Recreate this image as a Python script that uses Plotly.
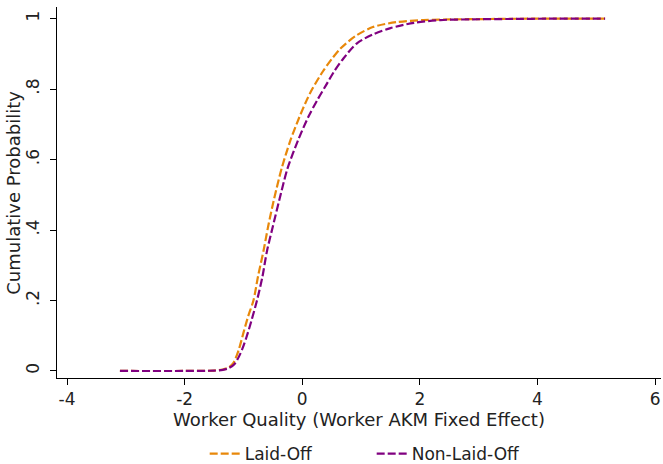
import plotly.graph_objects as go

laid_x = [-3.1, -2.0, -1.5, -1.35, -1.25, -1.17, -1.08, -1.0, -0.92, -0.83, -0.75, -0.66, -0.58, -0.49,
          -0.35, -0.2, -0.05, 0.08, 0.17, 0.35, 0.5, 0.65, 0.9, 1.2, 1.6, 2.06, 2.6, 3.2, 4.0, 5.15]
laid_y = [0, 0, 0.001, 0.004, 0.01, 0.023, 0.06, 0.108, 0.155, 0.2, 0.27, 0.34, 0.41, 0.48,
          0.575, 0.655, 0.72, 0.77, 0.80, 0.85, 0.885, 0.915, 0.95, 0.976, 0.99, 0.996, 0.998, 0.999, 1.0, 1.0]

# Non-Laid-Off empirical CDF
non_x = [-3.1, -2.0, -1.5, -1.35, -1.25, -1.15, -1.05, -0.95, -0.86, -0.77, -0.68, -0.6, -0.5, -0.39,
         -0.25, -0.07, 0.1, 0.26, 0.4, 0.55, 0.7, 0.93, 1.2, 1.5, 1.9, 2.35, 2.9, 3.5, 4.3, 5.15]
non_y = [0, 0, 0.001, 0.003, 0.008, 0.02, 0.05, 0.095, 0.145, 0.2, 0.265, 0.34, 0.41, 0.485,
         0.575, 0.655, 0.72, 0.77, 0.81, 0.852, 0.887, 0.93, 0.955, 0.973, 0.988, 0.996, 0.998, 0.999, 1.0, 1.0]

x_ticks = [-4, -2, 0, 2, 4, 6]
x_tick_labels = ["-4", "-2", "0", "2", "4", "6"]
y_ticks = [0, 0.2, 0.4, 0.6, 0.8, 1]
y_tick_labels = ["0", ".2", ".4", ".6", ".8", "1"]

FONT = "DejaVu Sans"
TXT = "#222222"

fig = go.Figure()
fig.add_trace(go.Scatter(x=laid_x, y=laid_y, mode="lines", name="Laid-Off",
                         line=dict(color="#E8880A", width=2.2, dash="8px,3px", shape="spline", smoothing=0.8)))
fig.add_trace(go.Scatter(x=non_x, y=non_y, mode="lines", name="Non-Laid-Off",
                         line=dict(color="#800080", width=2.2, dash="8px,3px", shape="spline", smoothing=0.8)))

fig.update_layout(
    width=663, height=464,
    margin=dict(l=57, r=2, t=7, b=86, autoexpand=False),
    paper_bgcolor="white", plot_bgcolor="white",
    font=dict(family=FONT, size=17, color=TXT),
    showlegend=True,
    legend=dict(orientation="h", x=0.521, xanchor="center", y=-0.205, yanchor="middle",
                font=dict(family=FONT, size=17, color=TXT), entrywidth=122, entrywidthmode="pixels"),
    xaxis=dict(range=[-4.17, 6.10], tickvals=x_ticks, ticktext=x_tick_labels, showgrid=False, zeroline=False,
               showline=True, linecolor="black", linewidth=1, automargin=False,
               ticks="outside", ticklen=6, tickcolor="black", tickfont=dict(size=17),
               title=dict(text="Worker Quality (Worker AKM Fixed Effect)", standoff=0,
                          font=dict(family=FONT, size=18, color=TXT))),
    yaxis=dict(range=[-0.02, 1.033], tickvals=y_ticks, ticktext=y_tick_labels, showgrid=False,
               zeroline=False, showline=True, linecolor="black", linewidth=1, automargin=False,
               ticks="outside", ticklen=6, tickcolor="black", tickangle=-90, tickfont=dict(size=17),
               ticklabelstandoff=4),
    annotations=[dict(text="Cumulative Probability", xref="paper", yref="paper",
                      x=-0.0725, y=0.5, xanchor="center", yanchor="middle", textangle=-90,
                      showarrow=False, font=dict(family=FONT, size=18, color=TXT))],
)

fig.write_html("out.html",
               config={"responsive": False, "displayModeBar": False},
               post_script="document.body.style.margin='0';document.body.style.padding='0';")
